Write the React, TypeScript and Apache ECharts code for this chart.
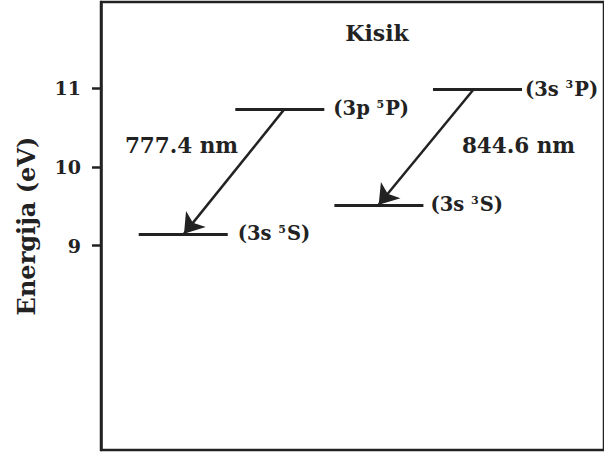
import React, { useEffect, useRef } from "react";
import * as echarts from "echarts";

const chartTitle = "Kisik";
const yAxisName = "Energija (eV)";
const yTickValues = [9, 10, 11];

const levelConfig = ["3s", "3p", "3s", "3s"];
const levelMultiplicity = ["5", "5", "3", "3"];
const levelTerm = ["S", "P", "S", "P"];
const levelEnergies = [9.15, 10.74, 9.52, 10.99];
const levelXStart = [0.75, 2.67, 4.64, 6.6];
const levelXEnd = [2.52, 4.44, 6.41, 8.37];

const transitionLabels = ["777.4 nm", "844.6 nm"];
const transitionFromX = [3.65, 7.41];
const transitionFromE = [10.74, 10.99];
const transitionToX = [1.65, 5.52];
const transitionToE = [9.15, 9.52];
const transitionLabelX = [1.6, 8.3];
const transitionLabelE = [10.27, 10.27];

const FONT = "'DejaVu Serif', serif";
const INK = "#222222";

export default function App() {
  const ref = useRef<HTMLDivElement>(null);
  useEffect(() => {
    if (!ref.current) return;
    const chart = echarts.init(ref.current, null, { renderer: "svg" });
    const labelGaps = [10, 9, 7, 3];
    const option: any = {
      animation: false,
      backgroundColor: "#ffffff",
      grid: {
        left: 101,
        top: 2,
        right: -8,
        bottom: 2,
        show: true,
        borderColor: INK,
        borderWidth: 2.5,
      },
      graphic: [
        {
          type: "text",
          x: 377,
          y: 33,
          style: {
            text: chartTitle,
            font: `bold 22px ${FONT}`,
            fill: INK,
            align: "center",
            verticalAlign: "middle",
          },
        },
      ],
      xAxis: {
        type: "value",
        min: 0,
        max: 10,
        show: false,
      },
      yAxis: {
        type: "value",
        min: 6.4,
        max: 12.1,
        name: yAxisName,
        nameLocation: "middle",
        nameGap: 63,
        nameTextStyle: { fontFamily: FONT, fontWeight: "bold", fontSize: 24, color: INK },
        splitLine: { show: false },
        axisLine: { show: true, lineStyle: { color: INK, width: 2.5 } },
        axisTick: {
          show: true,
          customValues: yTickValues,
          length: 9,
          lineStyle: { color: INK, width: 2.5 },
        },
        axisLabel: {
          customValues: yTickValues,
          margin: 20,
          fontFamily: FONT,
          fontWeight: "bold",
          fontSize: 19,
          color: INK,
        },
      },
      series: [
        {
          type: "lines",
          coordinateSystem: "cartesian2d",
          silent: true,
          lineStyle: { color: INK, width: 3, opacity: 1 },
          data: levelEnergies.map((e, i) => ({
            coords: [
              [levelXStart[i], e],
              [levelXEnd[i], e],
            ],
          })),
        },
        {
          type: "lines",
          coordinateSystem: "cartesian2d",
          silent: true,
          symbol: ["none", "arrow"],
          symbolSize: 19,
          lineStyle: { color: INK, width: 2.5, opacity: 1 },
          data: transitionLabels.map((_, i) => ({
            coords: [
              [transitionFromX[i], transitionFromE[i]],
              [transitionToX[i], transitionToE[i]],
            ],
          })),
        },
        {
          type: "scatter",
          silent: true,
          symbolSize: 0,
          itemStyle: { opacity: 1 },
          data: levelEnergies.map((e, i) => ({
            value: [levelXEnd[i], e],
            label: {
              show: true,
              position: "right",
              distance: labelGaps[i],
              formatter: `{b|(${levelConfig[i]} }{sup|${levelMultiplicity[i]}}{b|${levelTerm[i]})}`,
              rich: {
                b: { fontFamily: FONT, fontWeight: "bold", fontSize: 19.5, color: INK },
                sup: {
                  fontFamily: FONT,
                  fontWeight: "bold",
                  fontSize: 11,
                  color: INK,
                  verticalAlign: "top",
                  padding: [0, 1, 9, 0],
                },
              },
            },
          })),
        },
        {
          type: "scatter",
          silent: true,
          symbolSize: 0,
          itemStyle: { opacity: 1 },
          data: transitionLabels.map((t, i) => ({
            value: [transitionLabelX[i], transitionLabelE[i]],
            label: {
              show: true,
              position: "inside",
              formatter: t,
              fontFamily: FONT,
              fontWeight: "bold",
              fontSize: 21.5,
              color: INK,
              opacity: 1,
            },
          })),
        },
      ],
    };
    chart.setOption(option);
    return () => chart.dispose();
  }, []);
  return (
    <div
      ref={ref}
      style={{ position: "fixed", left: 0, top: 0, width: 604, height: 452 }}
    />
  );
}
